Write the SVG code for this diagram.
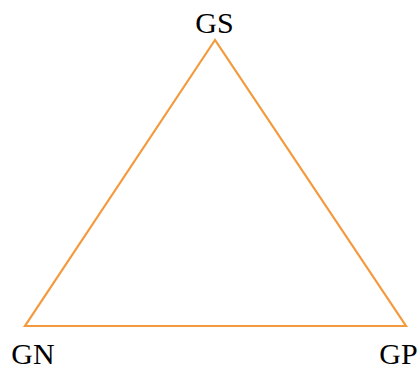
<svg xmlns="http://www.w3.org/2000/svg" width="420" height="370" viewBox="0 0 420 370">
<style>
text { font-family: "Liberation Serif", "Times New Roman", serif; font-size: 30px; fill: #000; text-anchor: middle; }
.edge { stroke: #F39A3C; stroke-width: 2.2; fill: none; }
</style>
<rect width="420" height="370" fill="#fff"/>
<g id="connectors">
<polygon class="edge" points="215,40 25,326 406,326"/>
</g>
<g id="GS"><text x="214.5" y="33">GS</text></g>
<g id="GN"><text x="33" y="364">GN</text></g>
<g id="GP"><text x="398.5" y="364">GP</text></g>
</svg>
